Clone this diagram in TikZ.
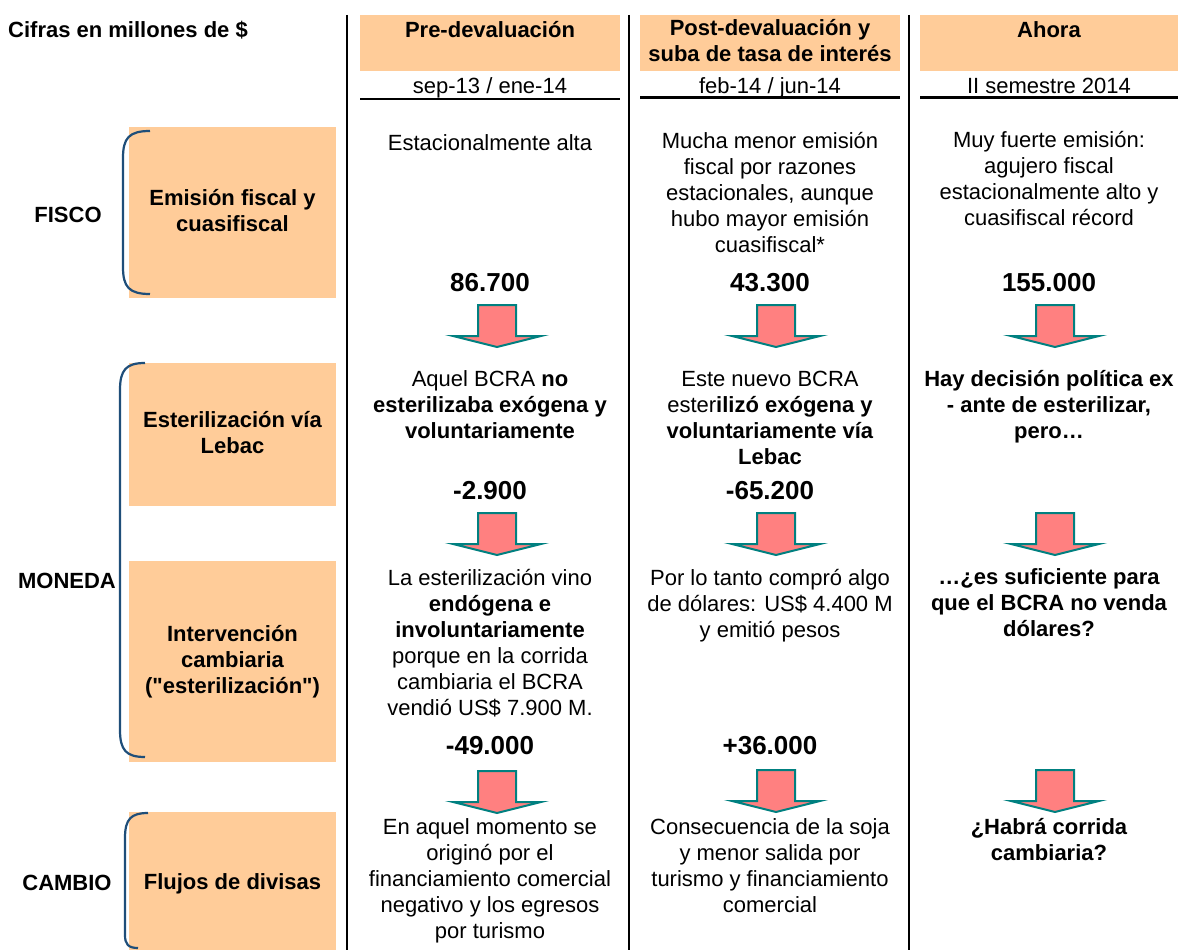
\documentclass[tikz,border=0pt]{standalone}
\usepackage{fontspec}
\setmainfont{Liberation Sans}
\newfontfamily\rawsans{Liberation Sans}
\definecolor{peach}{HTML}{FFCC99}
\definecolor{arrowfill}{HTML}{FF8080}
\definecolor{arrowline}{HTML}{008080}
\definecolor{bracecol}{HTML}{1F4E79}
\newcommand{\bstrut}{\rule{0pt}{21pt}}
\newcommand{\estrut}{\rule[-5pt]{0pt}{5pt}}
\tikzset{
  body/.style={font=\fontsize{22}{26}\selectfont, align=center, inner sep=0pt,
    execute at begin node=\bstrut, execute at end node=\estrut},
  bbody/.style={body, font=\fontsize{22}{26}\selectfont\bfseries},
  num/.style={font=\fontsize{26}{30}\selectfont\bfseries, inner sep=0pt},
  peachbox/.style={fill=peach, draw=none, inner sep=0pt},
  sep/.style={line width=2.5pt, black},
  bracket/.style={draw=bracecol, line width=2.2pt},
  bigarrow/.pic={\draw[arrowline, fill=arrowfill, line width=2pt, line join=miter]
    (-19,0) -- (19,0) -- (19,31) -- (44,31) -- (0,42) -- (-44,31) -- (-19,31) -- cycle;}
}
\begin{document}
\begin{tikzpicture}[x=1pt,y=-1pt]
\useasboundingbox (0,0) rectangle (1179,950);
\fill[white] (0,0) rectangle (1179,950);

% top-left caption
\node[bbody, anchor=west] (cifras) at (8,30) {Cifras en millones de \$};

% column separators
\coordinate (s1t) at (347,15); \coordinate (s1b) at (347,950);
\coordinate (s2t) at (629,15); \coordinate (s2b) at (629,950);
\coordinate (s3t) at (909,15); \coordinate (s3b) at (909,950);
\draw[sep] (s1t) -- (s1b);
\draw[sep] (s2t) -- (s2b);
\draw[sep] (s3t) -- (s3b);

% header boxes
\node[peachbox, minimum width=260, minimum height=56] (hb1) at (490,43) {};
\node[peachbox, minimum width=260, minimum height=56] (hb2) at (770,43) {};
\node[peachbox, minimum width=258, minimum height=56] (hb3) at (1049,43) {};
\node[bbody] (h1) at (490,30) {Pre-devaluación};
\node[bbody] (h2) at (770,43) {Post-devaluación y\\suba de tasa de interés};
\node[bbody] (h3) at (1049,30) {Ahora};
\node[body] (d1) at (490,85) {sep-13 / ene-14};
\node[body] (d2) at (770,85) {feb-14 / jun-14};
\node[body] (d3) at (1049,85) {II semestre 2014};
\draw[line width=1.5pt] (360,99) -- (620,99);
\draw[line width=3pt] (640,98) -- (900,98);
\draw[line width=3pt] (920,98) -- (1178,98);

% left boxes
\node[peachbox, minimum width=207, minimum height=171] (emi) at (232.5,212.5) {};
\node[peachbox, minimum width=207, minimum height=143] (est) at (232.5,434.5) {};
\node[peachbox, minimum width=207, minimum height=201] (int) at (232.5,661.5) {};
\node[peachbox, minimum width=207, minimum height=138] (flu) at (232.5,881) {};
\node[bbody] (emit) at (emi.center) {Emisión fiscal y\\cuasifiscal};
\node[bbody] (estt) at (est.center) {Esterilización vía\\Lebac};
\node[bbody] (intt) at (int.center) {Intervención\\cambiaria\\({\rawsans\bfseries"}esterilización{\rawsans\bfseries"})};
\node[bbody] (flut) at (flu.center) {Flujos de divisas};

% group labels
\node[bbody] (fisco) at (68,214) {FISCO};
\node[bbody] (moneda) at (67,580) {MONEDA};
\node[bbody] (cambio) at (67,882) {CAMBIO};

% brackets
\draw[bracket] (150,131) .. controls (129,131) and (123,138) .. (123,158) -- (123,267)
  .. controls (123,287) and (129,294) .. (150,294);
\draw[bracket] (145,363) .. controls (126,363) and (120,370) .. (120,390) -- (120,730)
  .. controls (120,750) and (126,757) .. (145,757);
\draw[bracket] (148,813) .. controls (131,813) and (125,819) .. (125,838) -- (125,935)
  .. controls (125,944) and (128,948) .. (138,948);

% column 1
\node[body] (c1r1) at (490,142) {Estacionalmente alta};
\node[num] (n11) at (490,283) {86.700};
\node[body] (c1r2) at (490,407) {Aquel BCRA \textbf{no}\\\textbf{esterilizaba exógena y}\\\textbf{voluntariamente}};
\node[num] (n12) at (490,491) {-2.900};
\node[body] (c1r3) at (490,645) {La esterilización vino\\\textbf{endógena e}\\\textbf{involuntariamente}\\porque en la corrida\\cambiaria el BCRA\\vendió US\$ 7.900 M.};
\node[num] (n13) at (490,746) {-49.000};
\node[body] (c1r4) at (490,881.5) {En aquel momento se\\originó por el\\financiamiento comercial\\negativo y los egresos\\por turismo};

% column 2
\node[body] (c2r1) at (770,194.5) {Mucha menor emisión\\fiscal por razones\\estacionales, aunque\\hubo mayor emisión\\cuasifiscal*};
\node[num] (n21) at (770,283) {43.300};
\node[body] (c2r2) at (770,420) {Este nuevo BCRA\\ester\textbf{ilizó exógena y}\\\textbf{voluntariamente vía}\\\textbf{Lebac}};
\node[num] (n22) at (770,491) {-65.200};
\node[body] (c2r3) at (770,605.5) {Por lo tanto compró algo\\de dólares: US\$ 4.400 M\\y emitió pesos};
\node[num] (n23) at (770,746) {+36.000};
\node[body] (c2r4) at (770,868.5) {Consecuencia de la soja\\y menor salida por\\turismo y financiamiento\\comercial};

% column 3
\node[body] (c3r1) at (1049,181) {Muy fuerte emisión:\\agujero fiscal\\estacionalmente alto y\\cuasifiscal récord};
\node[num] (n31) at (1049,283) {155.000};
\node[bbody] (c3r2) at (1049,407) {Hay decisión política ex\\- ante de esterilizar,\\pero…};
\node[bbody] (c3r3) at (1049,605.5) {…¿es suficiente para\\que el BCRA no venda\\dólares?};
\node[bbody] (c3r4) at (1049,842) {¿Habrá corrida\\cambiaria?};

% arrows
\pic at (497,305) {bigarrow};
\pic at (497,513) {bigarrow};
\pic at (497,771) {bigarrow};
\pic at (776,305) {bigarrow};
\pic at (776,513) {bigarrow};
\pic at (776,770) {bigarrow};
\pic at (1055,305) {bigarrow};
\pic at (1055,513) {bigarrow};
\pic at (1055,770) {bigarrow};
\end{tikzpicture}
\end{document}
